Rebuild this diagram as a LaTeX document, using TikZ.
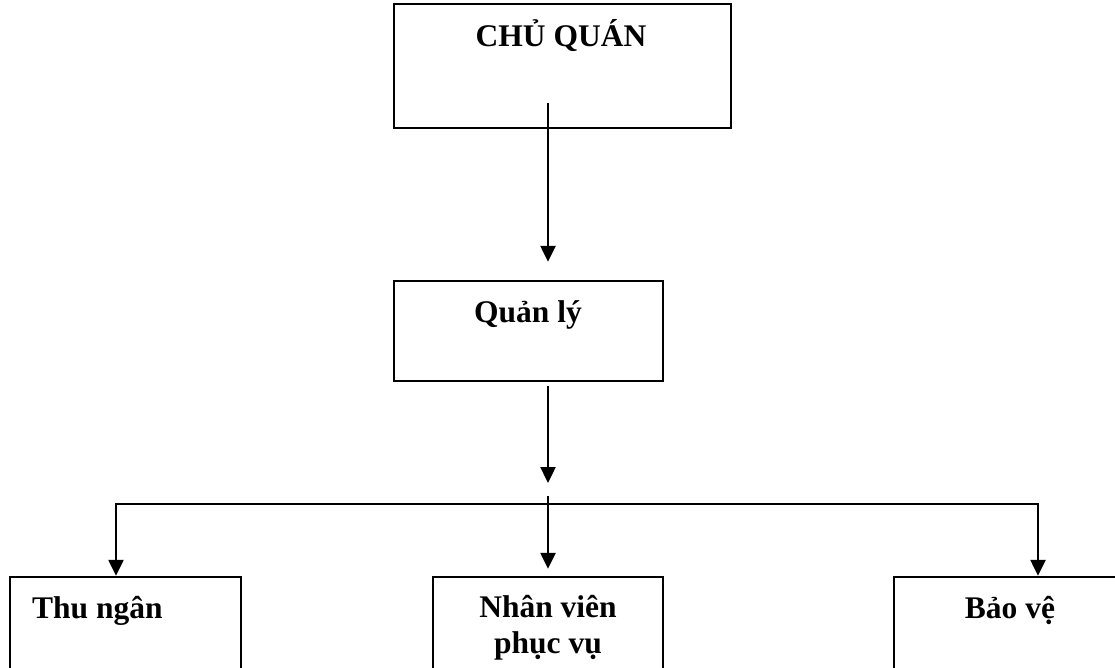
\documentclass[tikz,border=0pt]{standalone}
\usepackage{fontspec}
\setmainfont{Liberation Serif}
\usetikzlibrary{arrows.meta}

\begin{document}
\begin{tikzpicture}[x=1pt,y=-1pt]
\tikzstyle{orgbox}=[rectangle,draw,line width=2.4pt,inner sep=0pt]
\tikzstyle{orgtext}=[font=\fontsize{31.5}{36}\selectfont\bfseries,align=center,inner sep=0pt]
\tikzstyle{orgarrow}=[-{Triangle[length=16pt,width=15pt]},line width=2.4pt]

\useasboundingbox (0,0) rectangle (1115,667);
\clip (0,0) rectangle (1115,667);

\node [orgbox, minimum width=337pt, minimum height=124pt] (A) at (562.5,66) {};
\node [orgbox, minimum width=269pt, minimum height=100pt] (B) at (528.5,331) {};
\node [orgbox, minimum width=231pt, minimum height=120pt] (C) at (125.5,637) {};
\node [orgbox, minimum width=230pt, minimum height=120pt] (D) at (548,637) {};
\node [orgbox, minimum width=231pt, minimum height=120pt] (E) at (1009.5,637) {};

\node [orgtext, anchor=base] (A-t) at (561,46) {CHỦ QUÁN};
\node [orgtext, anchor=base] (B-t) at (528,322) {Quản lý};
\node [orgtext, anchor=base west] (C-t) at (32,618) {Thu ngân};
\node [orgtext, anchor=base] (D-t) at (548,653) {Nhân viên\\phục vụ};
\node [orgtext, anchor=base] (E-t) at (1010,618) {Bảo vệ};

\coordinate (top) at (548,103);
\coordinate (mid) at (548,504);
\coordinate (left) at (116,504);
\coordinate (right) at (1038,504);

\draw[orgarrow,shorten >=18pt] (top) -- (top |- B.north);
\draw[orgarrow,shorten <=4pt,shorten >=21pt] (mid |- B.south) -- (mid);
\draw[orgarrow,{Triangle[length=16pt,width=15pt]}-{Triangle[length=16pt,width=15pt]}] (left |- C.north) -- (left) -- (right) -- (right |- E.north);
\draw[orgarrow,shorten >=7pt] ([yshift=8pt]mid) -- (mid |- D.north);

\end{tikzpicture}
\end{document}
